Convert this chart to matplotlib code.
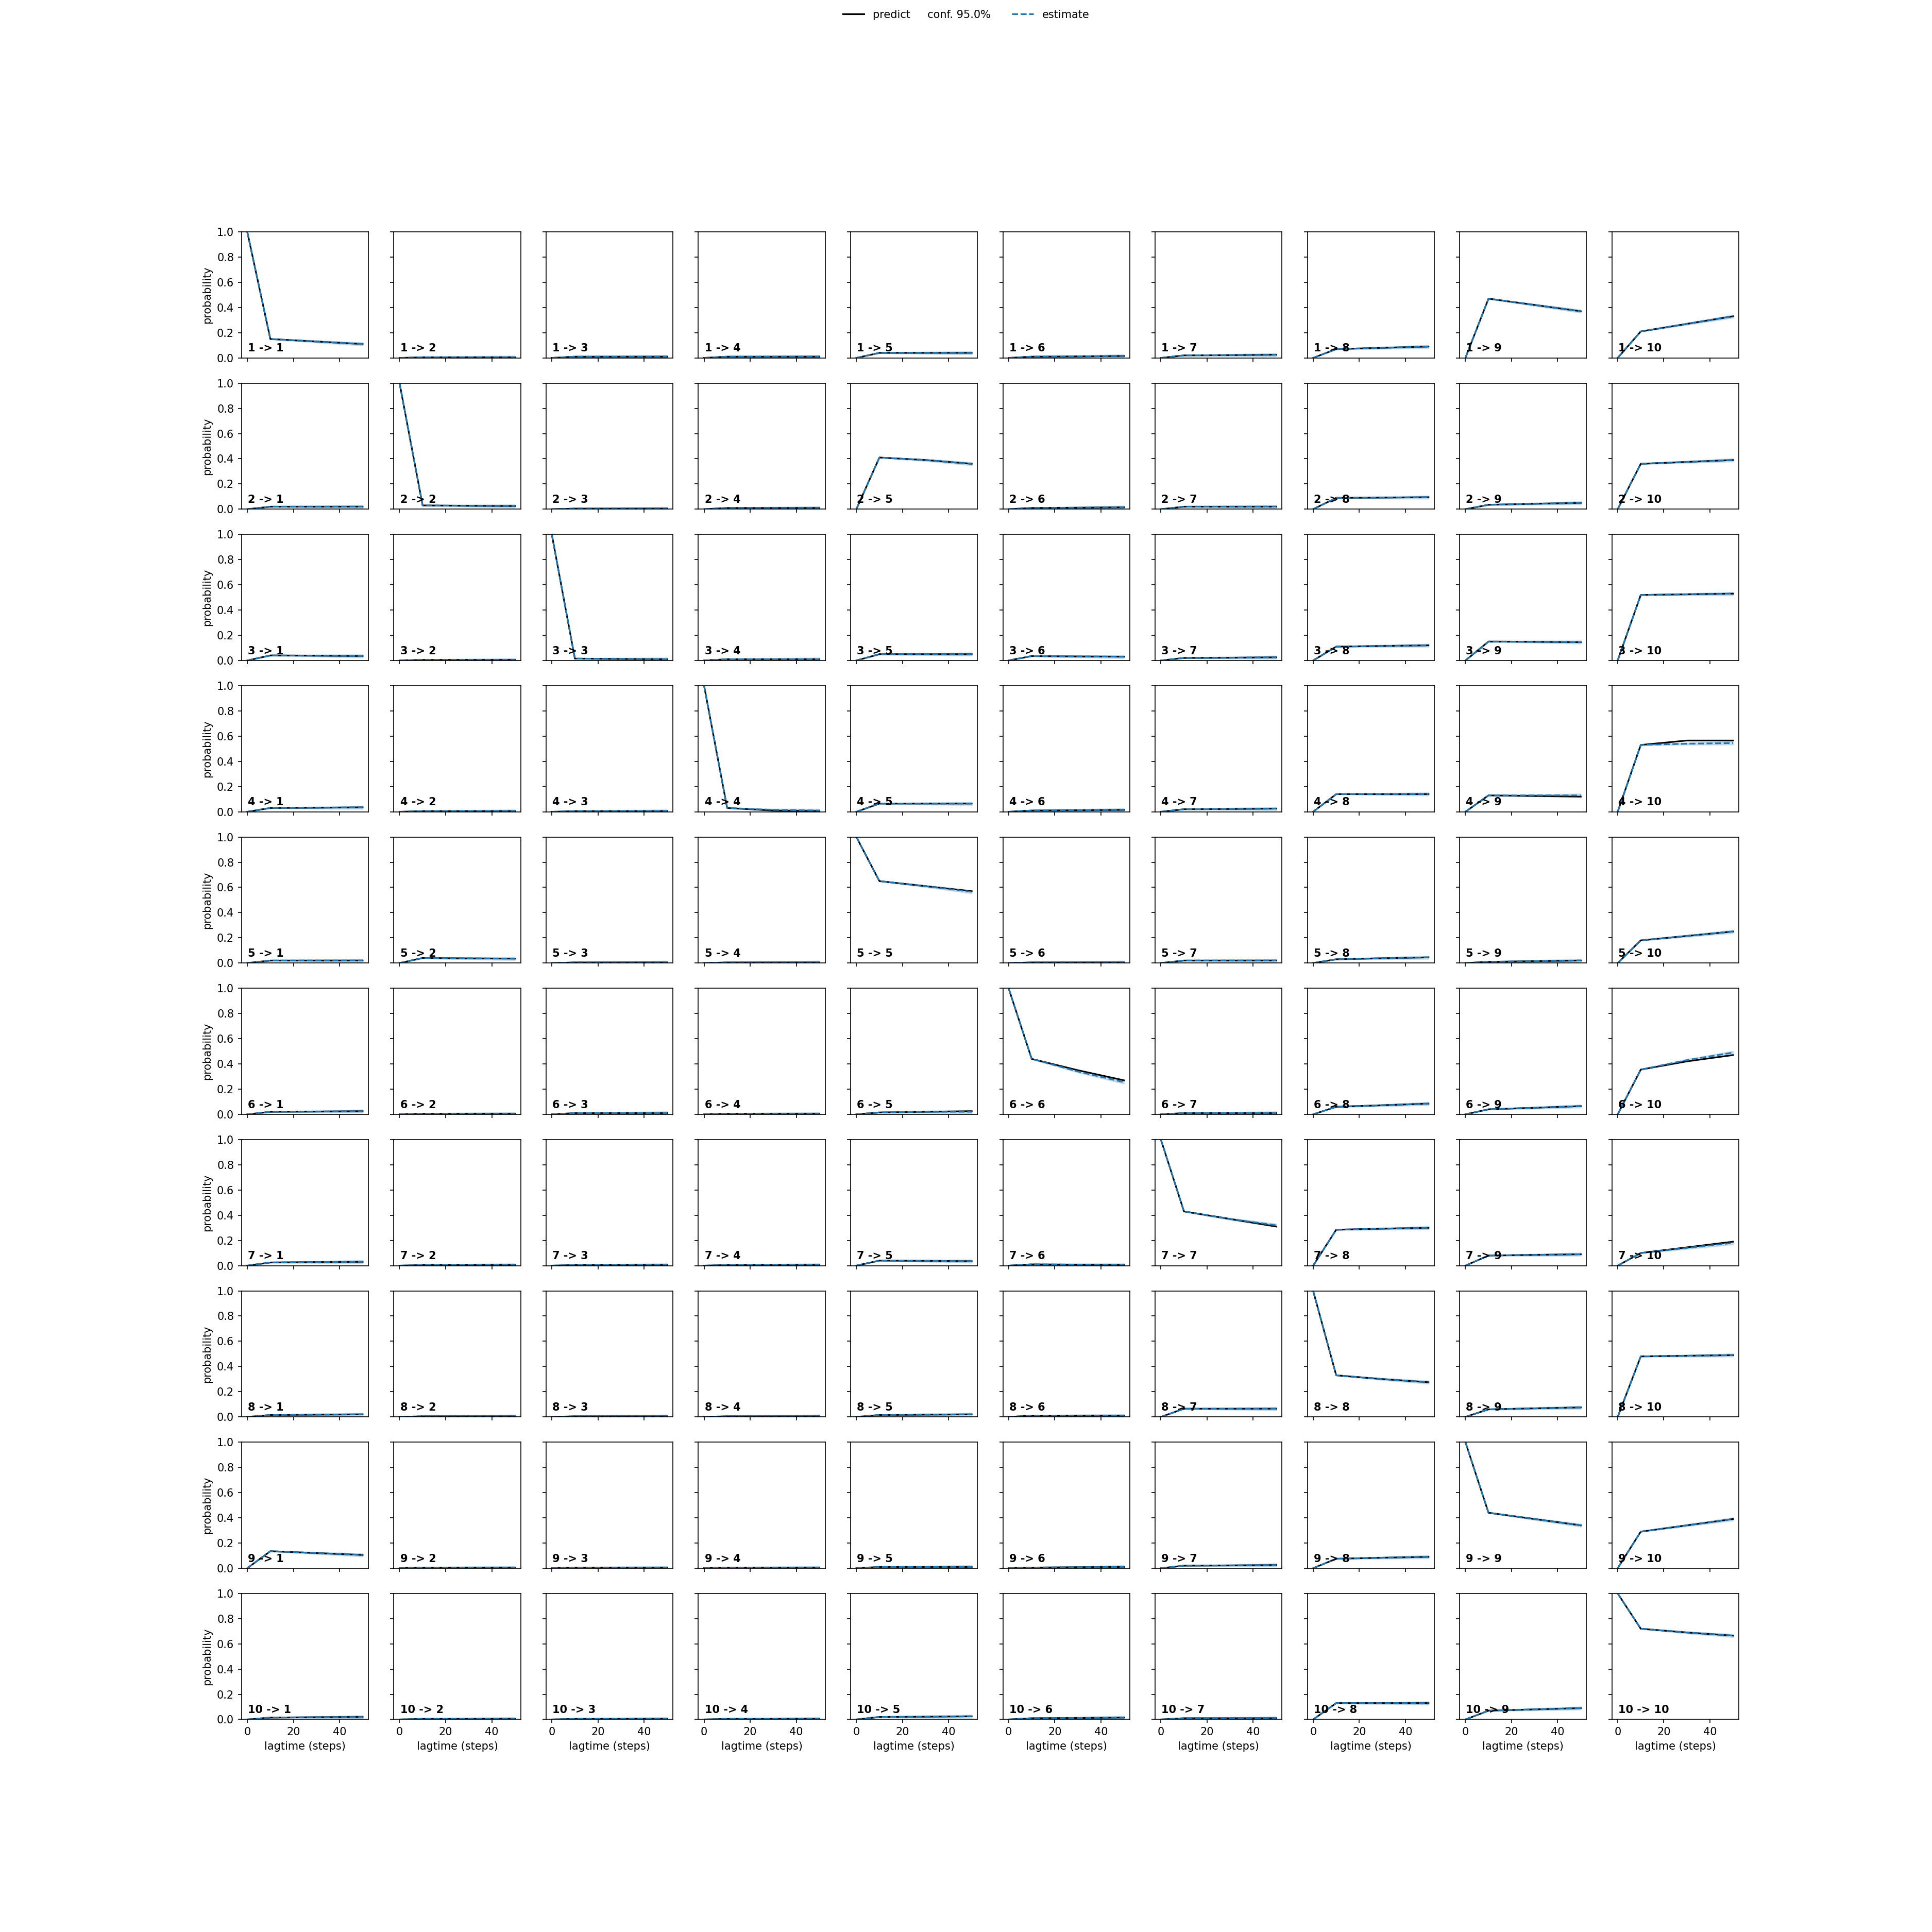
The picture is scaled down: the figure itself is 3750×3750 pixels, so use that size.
import matplotlib
matplotlib.use("Agg")
import matplotlib.pyplot as plt
import numpy as np

# lag times (steps) at which the CK test was evaluated
lagtimes = [0, 10, 30, 50]

# predicted transition probabilities, row = from state, col = to state
predict_10 = [
    [0.15, 0.005, 0.01, 0.01, 0.04, 0.01, 0.02, 0.07, 0.47, 0.21],
    [0.02, 0.03, 0.005, 0.01, 0.41, 0.01, 0.02, 0.09, 0.035, 0.36],
    [0.04, 0.005, 0.015, 0.01, 0.05, 0.035, 0.02, 0.11, 0.15, 0.52],
    [0.03, 0.005, 0.005, 0.03, 0.065, 0.01, 0.02, 0.14, 0.13, 0.53],
    [0.02, 0.04, 0.005, 0.005, 0.65, 0.005, 0.02, 0.03, 0.01, 0.18],
    [0.02, 0.005, 0.01, 0.005, 0.015, 0.44, 0.01, 0.06, 0.04, 0.355],
    [0.025, 0.005, 0.005, 0.005, 0.04, 0.01, 0.43, 0.285, 0.08, 0.10],
    [0.015, 0.005, 0.005, 0.005, 0.015, 0.01, 0.065, 0.33, 0.06, 0.48],
    [0.135, 0.005, 0.005, 0.005, 0.01, 0.005, 0.02, 0.075, 0.44, 0.29],
    [0.015, 0.005, 0.005, 0.005, 0.02, 0.01, 0.01, 0.13, 0.07, 0.72],
]
predict_30 = [
    [0.13, 0.005, 0.01, 0.01, 0.04, 0.012, 0.022, 0.08, 0.42, 0.27],
    [0.02, 0.027, 0.005, 0.01, 0.39, 0.012, 0.02, 0.092, 0.043, 0.375],
    [0.038, 0.005, 0.012, 0.01, 0.05, 0.032, 0.022, 0.115, 0.148, 0.525],
    [0.032, 0.005, 0.005, 0.01, 0.065, 0.012, 0.022, 0.14, 0.125, 0.565],
    [0.02, 0.037, 0.005, 0.005, 0.61, 0.005, 0.02, 0.038, 0.015, 0.215],
    [0.022, 0.005, 0.01, 0.005, 0.02, 0.35, 0.01, 0.072, 0.052, 0.42],
    [0.028, 0.005, 0.005, 0.005, 0.038, 0.008, 0.37, 0.293, 0.085, 0.145],
    [0.018, 0.005, 0.005, 0.005, 0.018, 0.01, 0.065, 0.30, 0.068, 0.485],
    [0.12, 0.005, 0.005, 0.005, 0.01, 0.008, 0.022, 0.083, 0.39, 0.34],
    [0.018, 0.005, 0.005, 0.005, 0.022, 0.012, 0.01, 0.13, 0.08, 0.69],
]
predict_50 = [
    [0.11, 0.005, 0.01, 0.01, 0.04, 0.015, 0.025, 0.09, 0.37, 0.33],
    [0.02, 0.025, 0.005, 0.01, 0.36, 0.015, 0.02, 0.095, 0.05, 0.39],
    [0.035, 0.005, 0.01, 0.01, 0.05, 0.03, 0.025, 0.12, 0.145, 0.53],
    [0.035, 0.005, 0.005, 0.005, 0.065, 0.015, 0.025, 0.14, 0.12, 0.565],
    [0.02, 0.035, 0.005, 0.005, 0.57, 0.005, 0.02, 0.045, 0.02, 0.25],
    [0.025, 0.005, 0.01, 0.005, 0.025, 0.27, 0.01, 0.085, 0.065, 0.47],
    [0.03, 0.005, 0.005, 0.005, 0.035, 0.005, 0.31, 0.30, 0.09, 0.19],
    [0.02, 0.005, 0.005, 0.005, 0.02, 0.01, 0.065, 0.275, 0.075, 0.49],
    [0.105, 0.005, 0.005, 0.005, 0.01, 0.01, 0.025, 0.09, 0.34, 0.39],
    [0.02, 0.005, 0.005, 0.005, 0.025, 0.015, 0.01, 0.13, 0.09, 0.665],
]

# estimates agree with predictions except for these panels (from, to): (lag 30, lag 50)
estimate_diff = {
    (4, 4): (0.015, 0.01),
    (4, 9): (0.13, 0.13),
    (4, 10): (0.54, 0.545),
    (5, 5): (0.61, 0.565),
    (6, 5): (0.02, 0.02),
    (6, 6): (0.34, 0.255),
    (6, 10): (0.43, 0.49),
    (7, 7): (0.37, 0.32),
    (7, 10): (0.14, 0.18),
}

# half width of the 95% confidence band of the estimates at each lag
conf_halfwidth = [0.0, 0.003, 0.008, 0.012]

n = len(predict_10)
pred = np.array([np.eye(n), predict_10, predict_30, predict_50])
est = pred.copy()
for (a, b), (v30, v50) in estimate_diff.items():
    est[2, a - 1, b - 1] = v30
    est[3, a - 1, b - 1] = v50
hw = np.array(conf_halfwidth)

color = 'C0'
fig, axes = plt.subplots(n, n, sharex=True, sharey=True, figsize=(25, 25))
for i in range(n):
    for j in range(n):
        ax = axes[i, j]
        lpred = ax.plot(lagtimes, pred[:, i, j], color='black')
        lest = ax.plot(lagtimes, est[:, i, j], color=color, linestyle='dashed')
        ax.fill_between(lagtimes, est[:, i, j] - hw, est[:, i, j] + hw, color=color, alpha=0.2)
        ax.text(0.05, 0.05, str(i + 1) + ' -> ' + str(j + 1), transform=ax.transAxes, weight='bold')
        ax.set_ylim(0, 1)
        if j == 0:
            ax.set_ylabel('probability')
        if i == n - 1:
            ax.set_xlabel('lagtime (steps)')

fig.legend((lpred[0], lest[0]), ('predict     conf. 95.0%', 'estimate'),
           loc='upper center', ncol=2, frameon=False)
fig.savefig('out.png', dpi=150)
